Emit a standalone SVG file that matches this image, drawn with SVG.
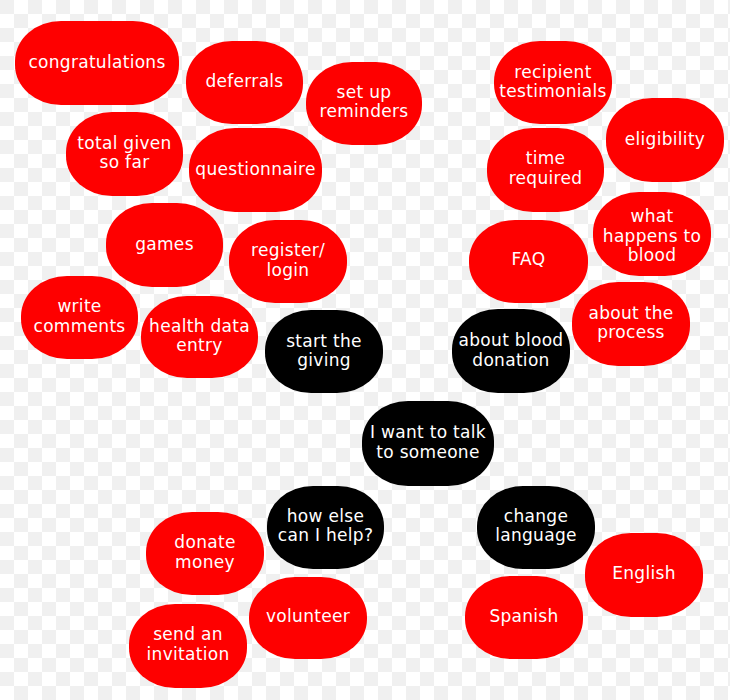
<svg xmlns="http://www.w3.org/2000/svg" width="730" height="700" viewBox="0 0 730 700">
<defs>
<pattern id="chk" width="28" height="28" patternUnits="userSpaceOnUse">
<rect width="28" height="28" fill="#ffffff"/>
<rect width="14" height="14" fill="#f0f0f0"/>
<rect x="14" y="14" width="14" height="14" fill="#f0f0f0"/>
</pattern>
</defs>
<style>
.r{fill:#fe0000}
.b{fill:#000000}
rect.r,rect.b{rx:46px;ry:40px}
text{font-family:"DejaVu Sans","Verdana",sans-serif;font-size:17px;letter-spacing:0.3px;fill:#ffffff;text-anchor:middle}
</style>
<rect width="730" height="700" fill="url(#chk)"/>
<g id="connectors"/>
<g id="congratulations"><rect class="r" x="15" y="21" width="164" height="84" rx="46" ry="40"/><text x="97" y="68">congratulations</text></g>
<g id="deferrals"><rect class="r" x="186" y="41" width="117" height="83" rx="46" ry="40"/><text x="244.5" y="87">deferrals</text></g>
<g id="set-up-reminders"><rect class="r" x="306" y="62" width="116" height="83" rx="46" ry="40"/><text x="364" y="98">set up</text><text x="364" y="117">reminders</text></g>
<g id="total-given"><rect class="r" x="66" y="112" width="117" height="84" rx="46" ry="40"/><text x="124.5" y="149">total given</text><text x="124.5" y="168">so far</text></g>
<g id="questionnaire"><rect class="r" x="189" y="128" width="133" height="84" rx="46" ry="40"/><text x="255.5" y="175">questionnaire</text></g>
<g id="recipient-testimonials"><rect class="r" x="494" y="41" width="118" height="83" rx="46" ry="40"/><text x="553" y="78">recipient</text><text x="553" y="97">testimonials</text></g>
<g id="eligibility"><rect class="r" x="606" y="98" width="118" height="84" rx="46" ry="40"/><text x="665" y="145">eligibility</text></g>
<g id="time-required"><rect class="r" x="487" y="128" width="117" height="84" rx="46" ry="40"/><text x="545.5" y="164">time</text><text x="545.5" y="184">required</text></g>
<g id="games"><rect class="r" x="106" y="203" width="117" height="84" rx="46" ry="40"/><text x="164.5" y="250">games</text></g>
<g id="register-login"><rect class="r" x="229" y="220" width="118" height="83" rx="46" ry="40"/><text x="288" y="256">register/</text><text x="288" y="276">login</text></g>
<g id="write-comments"><rect class="r" x="21" y="276" width="117" height="83" rx="46" ry="40"/><text x="79.5" y="312">write</text><text x="79.5" y="332">comments</text></g>
<g id="health-data-entry"><rect class="r" x="141" y="296" width="117" height="82" rx="46" ry="40"/><text x="199.5" y="332">health data</text><text x="199.5" y="351">entry</text></g>
<g id="start-the-giving"><rect class="b" x="265" y="310" width="118" height="83" rx="46" ry="40"/><text x="324" y="347">start the</text><text x="324" y="366">giving</text></g>
<g id="what-happens-to-blood"><rect class="r" x="593" y="192" width="118" height="84" rx="46" ry="40"/><text x="652" y="222">what</text><text x="652" y="242">happens to</text><text x="652" y="261">blood</text></g>
<g id="faq"><rect class="r" x="469" y="220" width="119" height="83" rx="46" ry="40"/><text x="528.5" y="265">FAQ</text></g>
<g id="about-the-process"><rect class="r" x="572" y="282" width="118" height="84" rx="46" ry="40"/><text x="631" y="319">about the</text><text x="631" y="338">process</text></g>
<g id="about-blood-donation"><rect class="b" x="452" y="309" width="118" height="84" rx="46" ry="40"/><text x="511" y="346">about blood</text><text x="511" y="366">donation</text></g>
<g id="i-want-to-talk"><rect class="b" x="362" y="401" width="132" height="85" rx="46" ry="40"/><text x="428" y="438">I want to talk</text><text x="428" y="458">to someone</text></g>
<g id="how-else"><rect class="b" x="267" y="486" width="117" height="83" rx="46" ry="40"/><text x="325.5" y="522">how else</text><text x="325.5" y="541">can I help?</text></g>
<g id="donate-money"><rect class="r" x="146" y="512" width="118" height="83" rx="46" ry="40"/><text x="205" y="548">donate</text><text x="205" y="568">money</text></g>
<g id="volunteer"><rect class="r" x="249" y="577" width="118" height="82" rx="46" ry="40"/><text x="308" y="622">volunteer</text></g>
<g id="send-an-invitation"><rect class="r" x="129" y="604" width="118" height="84" rx="46" ry="40"/><text x="188" y="640">send an</text><text x="188" y="660">invitation</text></g>
<g id="change-language"><rect class="b" x="477" y="486" width="118" height="83" rx="46" ry="40"/><text x="536" y="522">change</text><text x="536" y="541">language</text></g>
<g id="english"><rect class="r" x="585" y="533" width="118" height="84" rx="46" ry="40"/><text x="644" y="579">English</text></g>
<g id="spanish"><rect class="r" x="465" y="576" width="118" height="83" rx="46" ry="40"/><text x="524" y="622">Spanish</text></g>
</svg>
